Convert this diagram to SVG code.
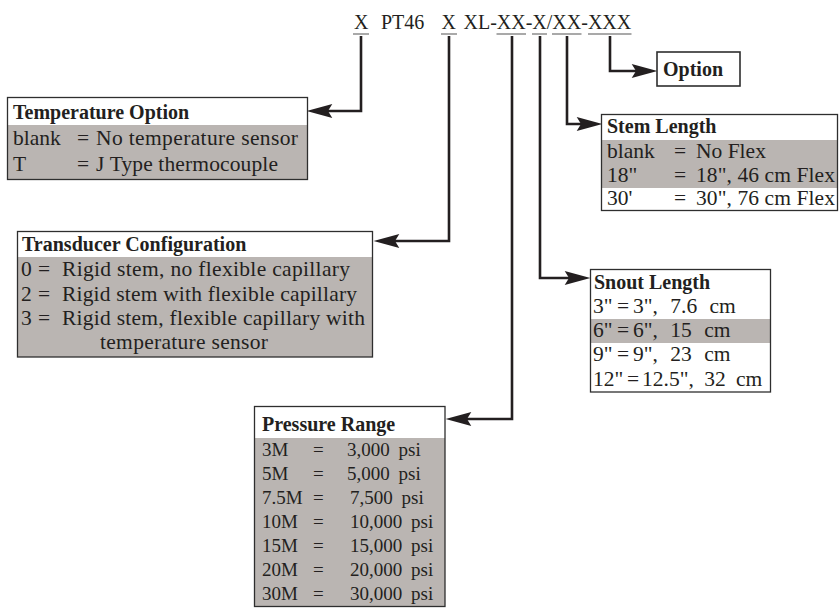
<svg xmlns="http://www.w3.org/2000/svg" width="839" height="614" viewBox="0 0 839 614">
<style>
.t{font-family:"Liberation Serif","Times New Roman",serif;font-size:21.5px;fill:#231f20}
.h{font-weight:bold;font-size:20px}
.p{font-size:19px}
.c{font-size:20px}
.bg{fill:#ffffff}
.g{fill:#bab5b2}
.frame{fill:none;stroke:#2e2e2e;stroke-width:1.3}
.conn{fill:none;stroke:#231f20;stroke-width:2.6}
.ul{stroke:#8c8c8c;stroke-width:1.5}
</style>
<defs>
<marker id="ah" markerUnits="userSpaceOnUse" markerWidth="30" markerHeight="20" viewBox="-6 -8 28 16" refX="0" refY="0" orient="auto" overflow="visible">
<path d="M20,0 L-4,-6.5 L0,0 L-4,6.5 Z" fill="#231f20"/>
</marker>
</defs>
<rect width="839" height="614" fill="#ffffff"/>

<g id="code">
<text class="t c" x="354" y="29">X</text>
<text class="t c" x="381" y="29">PT46</text>
<text class="t c" x="441.5" y="29">X</text>
<text class="t c" x="463.5" y="29">XL-XX-X/XX-XXX</text>
<line class="ul" x1="353" y1="34" x2="369" y2="34"/>
<line class="ul" x1="441" y1="34" x2="457" y2="34"/>
<line class="ul" x1="496.5" y1="34" x2="526" y2="34"/>
<line class="ul" x1="532" y1="34" x2="547" y2="34"/>
<line class="ul" x1="552" y1="34" x2="581.5" y2="34"/>
<line class="ul" x1="588" y1="34" x2="631.5" y2="34"/>
</g>

<g id="connectors">
<path class="conn" d="M361,36 V111 H328" marker-end="url(#ah)"/>
<path class="conn" d="M449,36 V241 H395" marker-end="url(#ah)"/>
<path class="conn" d="M512,36 V419 H467" marker-end="url(#ah)"/>
<path class="conn" d="M540,36 V278 H569" marker-end="url(#ah)"/>
<path class="conn" d="M567,36 V124 H581" marker-end="url(#ah)"/>
<path class="conn" d="M610,36 V71 H636" marker-end="url(#ah)"/>
</g>

<g id="option">
<rect class="bg" x="657" y="52" width="83" height="34"/>
<rect class="frame" x="657" y="52" width="83" height="34" style="stroke-width:1.6"/>
<text class="t h" x="663" y="76">Option</text>
</g>

<g id="temperature-option">
<rect class="bg" x="7.5" y="97.5" width="300" height="82"/>
<rect class="g" x="7.5" y="125" width="300" height="54.5"/>
<rect class="frame" x="7.5" y="97.5" width="300" height="82"/>
<text class="t h" x="13" y="119">Temperature Option</text>
<text class="t" x="13" y="145">blank</text>
<text class="t" x="77" y="145">=</text>
<text class="t" x="96" y="145" textLength="202">No temperature sensor</text>
<text class="t" x="13" y="171">T</text>
<text class="t" x="77" y="171">=</text>
<text class="t" x="96" y="171" textLength="182">J Type thermocouple</text>
</g>

<g id="stem-length">
<rect class="bg" x="601.5" y="114.5" width="236" height="96"/>
<rect class="g" x="601.5" y="140" width="236" height="48"/>
<rect class="frame" x="601.5" y="114.5" width="236" height="96"/>
<text class="t h" x="607" y="133">Stem Length</text>
<text class="t" x="607" y="158">blank</text>
<text class="t" x="674" y="158">=</text>
<text class="t" x="696" y="158">No Flex</text>
<text class="t" x="607" y="182">18"</text>
<text class="t" x="674" y="182">=</text>
<text class="t" x="696" y="182" textLength="139">18", 46 cm Flex</text>
<text class="t" x="607" y="205">30'</text>
<text class="t" x="674" y="205">=</text>
<text class="t" x="696" y="205" textLength="139">30", 76 cm Flex</text>
</g>

<g id="transducer-configuration">
<rect class="bg" x="17.5" y="231.5" width="355" height="125.5"/>
<rect class="g" x="17.5" y="257" width="355" height="100"/>
<rect class="frame" x="17.5" y="231.5" width="355" height="125.5"/>
<text class="t h" x="22" y="251">Transducer Configuration</text>
<text class="t" x="21" y="276">0</text>
<text class="t" x="38" y="276">=</text>
<text class="t" x="62" y="276" textLength="288">Rigid stem, no flexible capillary</text>
<text class="t" x="21" y="301">2</text>
<text class="t" x="38" y="301">=</text>
<text class="t" x="62" y="301" textLength="295">Rigid stem with flexible capillary</text>
<text class="t" x="21" y="325">3</text>
<text class="t" x="38" y="325">=</text>
<text class="t" x="62" y="325" textLength="303">Rigid stem, flexible capillary with</text>
<text class="t" x="100" y="349" textLength="168">temperature sensor</text>
</g>

<g id="snout-length">
<rect class="bg" x="590.5" y="269.5" width="180" height="122.5"/>
<rect class="g" x="590.5" y="319" width="180" height="24"/>
<rect class="frame" x="590.5" y="269.5" width="180" height="122.5"/>
<text class="t h" x="594" y="289">Snout Length</text>
<text class="t" x="593" y="313">3"</text><text class="t" x="617" y="313">=</text><text class="t" x="633" y="313" style="word-spacing:7px">3", 7.6 cm</text>
<text class="t" x="593" y="337">6"</text><text class="t" x="617" y="337">=</text><text class="t" x="633" y="337" style="word-spacing:7px">6", 15 cm</text>
<text class="t" x="593" y="361">9"</text><text class="t" x="617" y="361">=</text><text class="t" x="633" y="361" style="word-spacing:7px">9", 23 cm</text>
<text class="t" x="593" y="386">12"</text><text class="t" x="627" y="386">=</text><text class="t" x="642" y="386" style="word-spacing:5px">12.5", 32 cm</text>
</g>

<g id="pressure-range">
<rect class="bg" x="254.5" y="406.5" width="190.5" height="200"/>
<rect class="g" x="254.5" y="438" width="190.5" height="168.5"/>
<rect class="frame" x="254.5" y="406.5" width="190.5" height="200"/>
<text class="t h" x="262" y="431">Pressure Range</text>
<text class="t p" x="262" y="456">3M</text><text class="t p" x="313" y="456">=</text><text class="t p" x="347" y="456" style="word-spacing:4px">3,000 psi</text>
<text class="t p" x="262" y="480">5M</text><text class="t p" x="313" y="480">=</text><text class="t p" x="347" y="480" style="word-spacing:4px">5,000 psi</text>
<text class="t p" x="262" y="504">7.5M</text><text class="t p" x="313" y="504">=</text><text class="t p" x="350" y="504" style="word-spacing:4px">7,500 psi</text>
<text class="t p" x="262" y="528">10M</text><text class="t p" x="313" y="528">=</text><text class="t p" x="350" y="528" style="word-spacing:4px">10,000 psi</text>
<text class="t p" x="262" y="552">15M</text><text class="t p" x="313" y="552">=</text><text class="t p" x="350" y="552" style="word-spacing:4px">15,000 psi</text>
<text class="t p" x="262" y="576">20M</text><text class="t p" x="313" y="576">=</text><text class="t p" x="350" y="576" style="word-spacing:4px">20,000 psi</text>
<text class="t p" x="262" y="600">30M</text><text class="t p" x="313" y="600">=</text><text class="t p" x="350" y="600" style="word-spacing:4px">30,000 psi</text>
</g>
</svg>
